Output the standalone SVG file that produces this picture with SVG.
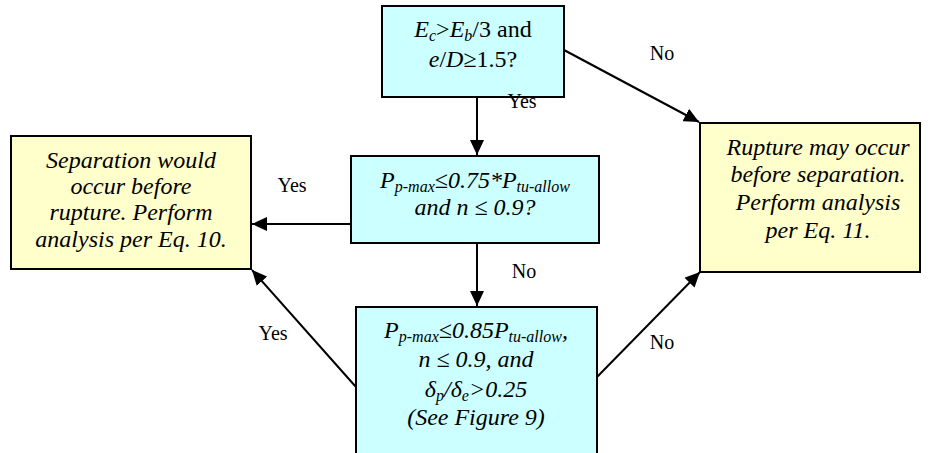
<svg xmlns="http://www.w3.org/2000/svg" width="932" height="453" viewBox="0 0 932 453">
<defs>
<marker id="ah" markerUnits="userSpaceOnUse" markerWidth="16" markerHeight="14" refX="15" refY="7" orient="auto">
<path d="M0,0 L15,7 L0,14 z" fill="#000"/>
</marker>
</defs>
<g id="n1">
<rect x="382" y="6" width="182" height="91" fill="#ccffff" stroke="#000" stroke-width="2"/>
<text x="473" y="37" font-family="Liberation Serif" font-size="24" text-anchor="middle"><tspan font-style="italic">E</tspan><tspan font-style="italic" font-size="16" dy="4">c</tspan><tspan dy="-4">&gt;</tspan><tspan font-style="italic">E</tspan><tspan font-style="italic" font-size="16" dy="4">b</tspan><tspan dy="-4">/3 and</tspan></text>
<text x="473" y="67" font-family="Liberation Serif" font-size="24" text-anchor="middle"><tspan font-style="italic">e</tspan>/<tspan font-style="italic">D</tspan>≥1.5?</text>
</g>
<g id="n2">
<rect x="351" y="156" width="248" height="87" fill="#ccffff" stroke="#000" stroke-width="2"/>
<text x="475" y="188" font-family="Liberation Serif" font-size="24" font-style="italic" text-anchor="middle">P<tspan font-size="16" dy="4">p-max</tspan><tspan dy="-4">≤0.75*P</tspan><tspan font-size="16" dy="4">tu-allow</tspan></text>
<text x="475" y="215" font-family="Liberation Serif" font-size="24" font-style="italic" text-anchor="middle">and n ≤ 0.9?</text>
</g>
<g id="n3">
<rect x="11" y="136" width="240" height="133" fill="#ffffcc" stroke="#000" stroke-width="2"/>
<text x="131" y="168" font-family="Liberation Serif" font-size="24" font-style="italic" text-anchor="middle">Separation would</text>
<text x="131" y="194" font-family="Liberation Serif" font-size="24" font-style="italic" text-anchor="middle">occur before</text>
<text x="131" y="220" font-family="Liberation Serif" font-size="24" font-style="italic" text-anchor="middle">rupture. Perform</text>
<text x="131" y="247" font-family="Liberation Serif" font-size="24" font-style="italic" text-anchor="middle">analysis per Eq. 10.</text>
</g>
<g id="n4">
<rect x="700" y="123" width="220" height="149" fill="#ffffcc" stroke="#000" stroke-width="2"/>
<text x="818" y="155" font-family="Liberation Serif" font-size="24" font-style="italic" text-anchor="middle">Rupture may occur</text>
<text x="818" y="182" font-family="Liberation Serif" font-size="24" font-style="italic" text-anchor="middle">before separation.</text>
<text x="818" y="210" font-family="Liberation Serif" font-size="24" font-style="italic" text-anchor="middle">Perform analysis</text>
<text x="818" y="238" font-family="Liberation Serif" font-size="24" font-style="italic" text-anchor="middle">per Eq. 11.</text>
</g>
<g id="n5">
<rect x="356" y="307" width="241" height="160" fill="#ccffff" stroke="#000" stroke-width="2"/>
<text x="476" y="338" font-family="Liberation Serif" font-size="24" font-style="italic" text-anchor="middle">P<tspan font-size="16" dy="4">p-max</tspan><tspan dy="-4">≤0.85P</tspan><tspan font-size="16" dy="4">tu-allow</tspan><tspan dy="-4">,</tspan></text>
<text x="476" y="367" font-family="Liberation Serif" font-size="24" font-style="italic" text-anchor="middle">n ≤ 0.9, and</text>
<text x="476" y="397" font-family="Liberation Serif" font-size="24" font-style="italic" text-anchor="middle">δ<tspan font-size="16" dy="4">p</tspan><tspan dy="-4">/δ</tspan><tspan font-size="16" dy="4">e</tspan><tspan dy="-4">&gt;0.25</tspan></text>
<text x="476" y="425" font-family="Liberation Serif" font-size="24" font-style="italic" text-anchor="middle">(See Figure 9)</text>
</g>
<g id="connectors" stroke="#000" stroke-width="2" marker-end="url(#ah)">
<line x1="564" y1="50" x2="699" y2="122"/>
<line x1="477" y1="97" x2="477" y2="155"/>
<line x1="351" y1="224" x2="252" y2="224"/>
<line x1="477" y1="243" x2="477" y2="306"/>
<line x1="356" y1="387" x2="252" y2="270"/>
<line x1="597" y1="377" x2="700" y2="272"/>
</g>
<g id="labels">
<text x="662" y="60" font-family="Liberation Serif" font-size="20" text-anchor="middle">No</text>
<text x="522" y="108" font-family="Liberation Serif" font-size="20" text-anchor="middle">Yes</text>
<text x="292" y="192" font-family="Liberation Serif" font-size="20" text-anchor="middle">Yes</text>
<text x="524" y="278" font-family="Liberation Serif" font-size="20" text-anchor="middle">No</text>
<text x="273" y="340" font-family="Liberation Serif" font-size="20" text-anchor="middle">Yes</text>
<text x="662" y="349" font-family="Liberation Serif" font-size="20" text-anchor="middle">No</text>
</g>
</svg>
